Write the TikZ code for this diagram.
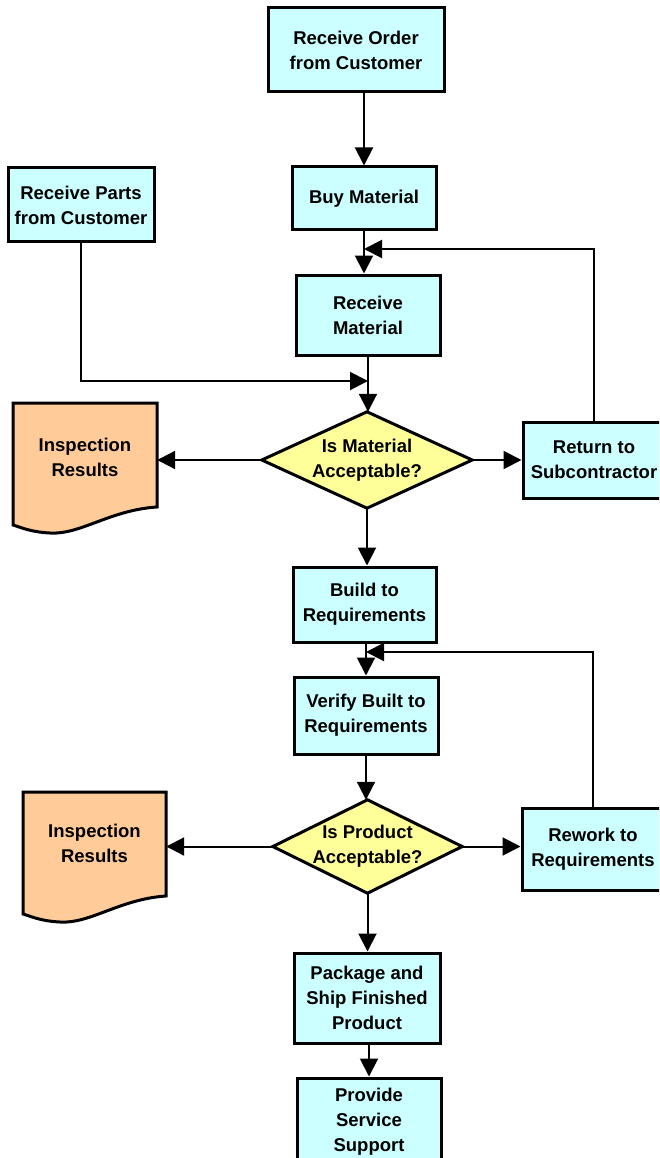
\documentclass[tikz,border=0pt]{standalone}
\usepackage{fontspec}
\setmainfont{Liberation Sans}
\usetikzlibrary{arrows.meta}
\definecolor{boxcyan}{HTML}{CCFFFF}
\definecolor{diayel}{HTML}{FFFF99}
\definecolor{docor}{HTML}{FFCC99}
\begin{document}
\begin{tikzpicture}[x=1pt,y=-1pt,
  every node/.style={font=\bfseries\fontsize{18.5}{25}\selectfont, align=center, inner sep=0pt},
  procbox/.style={rectangle, draw=black, fill=boxcyan, line width=3pt},
  textonly/.style={rectangle},
  decshape/.style={draw=black, fill=diayel, line width=3pt, line join=miter},
  docshape/.style={draw=black, fill=docor, line width=3pt, line join=miter},
  arr/.style={line width=2pt, -{Triangle[length=18pt,width=18pt]}},
  line/.style={line width=2pt}]
\useasboundingbox (0,0) rectangle (659,1158);
\clip (0,0) rectangle (659,1158);

% process boxes
\node[procbox, minimum width=176pt, minimum height=84pt] (order) at (356,50) {Receive Order\\from Customer};
\node[procbox, minimum width=144pt, minimum height=63pt] (buy) at (364,198.5) {Buy Material};
\node[procbox, minimum width=146pt, minimum height=74pt] (parts) at (81,205) {Receive Parts\\from Customer};
\node[procbox, minimum width=144pt, minimum height=80pt] (recm) at (368,315) {Receive\\Material};
\node[procbox, minimum width=142pt, minimum height=76pt] (ret) at (594,460) {Return to\\Subcontractor};
\node[procbox, minimum width=143pt, minimum height=75pt] (build) at (364.5,604.5) {Build to\\Requirements};
\node[procbox, minimum width=144pt, minimum height=77pt] (verify) at (366,715.5) {Verify Built to\\Requirements};
\node[procbox, minimum width=142pt, minimum height=82pt] (rework) at (593,849) {Rework to\\Requirements};
\node[procbox, minimum width=146pt, minimum height=90pt] (pack) at (367,998) {Package and\\Ship Finished\\Product};
\node[procbox, minimum width=144pt, minimum height=88pt] (prov) at (369,1122) {Provide\\Service\\Support};

% decision diamonds
\node[textonly, minimum width=210pt, minimum height=96pt] (d1) at (367,460) {};
\draw[decshape] (d1.north) -- (d1.east) -- (d1.south) -- (d1.west) -- cycle;
\node (d1t) at (d1.center) {Is Material\\Acceptable?};
\node[textonly, minimum width=189pt, minimum height=93pt] (d2) at (367.5,846.5) {};
\draw[decshape] (d2.north) -- (d2.east) -- (d2.south) -- (d2.west) -- cycle;
\node (d2t) at (d2.center) {Is Product\\Acceptable?};

% documents
\draw[docshape] (13,403) -- (157,403) -- (157,507) .. controls (110,510) and (80,535) .. (50,533) .. controls (30,532) and (20,527) .. (13,525) -- cycle;
\node[textonly, minimum width=144pt, minimum height=108pt] (insp1) at (85,457) {Inspection\\Results};
\begin{scope}[shift={(10,389)}]
\draw[docshape] (13,403) -- (156,403) -- (156,507) .. controls (110,510) and (80,535) .. (50,533) .. controls (30,532) and (20,527) .. (13,525) -- cycle;
\end{scope}
\node[textonly, minimum width=143pt, minimum height=108pt] (insp2) at (94.5,843) {Inspection\\Results};

% join points
\coordinate (fb1) at (364,249);
\coordinate (j1) at (368,381);
\coordinate (fb2) at (366,652);

% connectors
\draw[arr] (buy.north |- order.south) -- (buy.north);
\draw[arr] (buy.south) -- (buy.south |- recm.north);
\draw[arr] (ret.north) |- (fb1);
\draw[arr] (recm.south) -- (recm.south |- d1.north);
\draw[arr] (parts.south) |- (j1);
\draw[arr] (d1.west) -- (d1.west -| insp1.east);
\draw[arr] (d1.east) -- (d1.east -| ret.west);
\draw[arr] (d1.south) -- (d1.south |- build.north);
\draw[arr] (verify.north |- build.south) -- (verify.north);
\draw[arr] (rework.north) |- (fb2);
\draw[arr] (verify.south) -- (verify.south |- d2.north);
\draw[arr] (d2.west) -- (d2.west -| insp2.east);
\draw[arr] (d2.east) -- (d2.east -| rework.west);
\draw[arr] (d2.south) -- (d2.south |- pack.north);
\draw[arr] (prov.north |- pack.south) -- (prov.north);
\end{tikzpicture}
\end{document}
